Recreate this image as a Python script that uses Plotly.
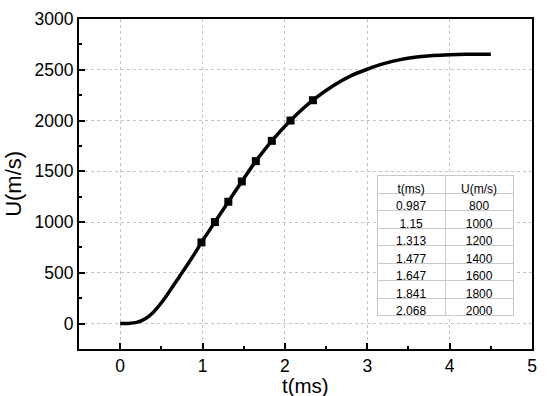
import plotly.graph_objects as go

# Curve
curve_t = [0, 0.1, 0.2, 0.3, 0.4, 0.5, 0.6, 0.7, 0.8, 0.9, 0.987, 1.15, 1.313, 1.477,
           1.647, 1.841, 2.068, 2.34, 2.6, 2.8, 3.0, 3.2, 3.4, 3.6, 3.8, 4.0, 4.2, 4.5]
curve_u = [0, 2, 12, 45, 110, 205, 320, 440, 560, 685, 800, 1000, 1200, 1400,
           1600, 1800, 2000, 2200, 2350, 2440, 2505, 2560, 2600, 2625, 2640, 2648, 2652, 2653]

# Marked points
mark_t = [0.987, 1.15, 1.313, 1.477, 1.647, 1.841, 2.068, 2.34]
mark_u = [800, 1000, 1200, 1400, 1600, 1800, 2000, 2200]

# Table values
table_t = ["0.987", "1.15", "1.313", "1.477", "1.647", "1.841", "2.068"]
table_u = ["800", "1000", "1200", "1400", "1600", "1800", "2000"]
table_head = ["t(ms)", "U(m/s)"]

FONT = "Liberation Sans, Arial, sans-serif"

fig = go.Figure()
fig.add_trace(go.Scatter(x=curve_t, y=curve_u, mode="lines",
                         line=dict(color="black", width=3.5, shape="spline", smoothing=0.8),
                         showlegend=False, hoverinfo="skip"))
fig.add_trace(go.Scatter(x=mark_t, y=mark_u, mode="markers",
                         marker=dict(symbol="square", size=8, color="black"),
                         showlegend=False))
fig.add_trace(go.Table(
    domain=dict(x=[0.658, 0.960], y=[0.085, 0.525]),
    columnwidth=[1, 1],
    header=dict(values=table_head, fill_color="white", align="center",
                line=dict(color="#c8c8c8", width=1),
                font=dict(family=FONT, size=12, color="black"), height=17.5),
    cells=dict(values=[table_t, table_u], fill_color="white", align="center",
               line=dict(color="#c8c8c8", width=1),
               font=dict(family=FONT, size=12, color="black"), height=17.5),
))

axis_common = dict(
    showline=True, linecolor="black", linewidth=2, mirror=True,
    ticks="inside", tickcolor="black", tickwidth=1.5, ticklen=6,
    showgrid=True, gridcolor="#c4c4c4", gridwidth=1, griddash="dot",
    zeroline=False, automargin=False,
    tickfont=dict(family=FONT, size=17.5, color="black"),
)

fig.update_xaxes(range=[-0.5, 5], dtick=1, tick0=0,
                 minor=dict(dtick=0.5, ticks="inside", ticklen=3, tickcolor="black", showgrid=False),
                 **axis_common)
fig.update_yaxes(range=[-250, 3000], dtick=500, tick0=0,
                 minor=dict(dtick=250, ticks="inside", ticklen=3, tickcolor="black", showgrid=False),
                 **axis_common)

fig.update_layout(
    width=550, height=396, margin=dict(l=79, r=18, t=19, b=47),
    paper_bgcolor="white", plot_bgcolor="white",
    annotations=[
        dict(text="t(ms)", xref="paper", yref="paper", x=0.5, y=-0.112,
             xanchor="center", yanchor="middle", showarrow=False,
             font=dict(family=FONT, size=20.5, color="black")),
        dict(text="U(m/s)", xref="paper", yref="paper", x=-0.146, y=0.5,
             xanchor="center", yanchor="middle", showarrow=False, textangle=-90,
             font=dict(family=FONT, size=22, color="black")),
    ],
)

fig.write_html("out.html", config={"displayModeBar": False},
               post_script="document.body.style.margin='0';document.body.style.padding='0';")
